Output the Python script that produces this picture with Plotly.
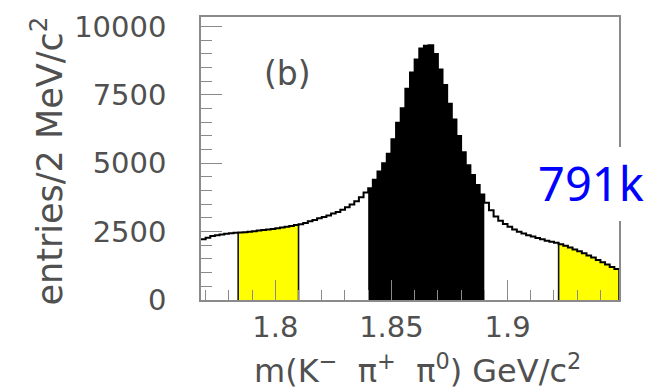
import plotly.graph_objects as go

# ---- data -------------------------------------------------------------
mass_lo = 1.768          # GeV/c^2, first bin edge
bin_width = 0.002        # 2 MeV/c^2
counts = [
    2220, 2280, 2340, 2370, 2400, 2420, 2440, 2455, 2470, 2480,
    2500, 2510, 2540, 2560, 2580, 2600, 2620, 2650, 2680, 2710,
    2740, 2770, 2820, 2880, 2930, 2990, 3040, 3090, 3160, 3220,
    3300, 3390, 3490, 3610, 3760, 3930,
    4090, 4400, 4700, 5000, 5350, 5880, 6480, 7010, 7730, 8320,
    8800, 9200, 9300, 9320, 9000, 8430, 7860, 7180, 6600, 6000,
    5400, 4930, 4570, 4210, 3860,
    3560, 3280, 3050, 2900, 2780, 2680, 2580, 2500, 2430, 2370,
    2320, 2270, 2220, 2170, 2130, 2090, 2040, 1980, 1920, 1850,
    1780, 1710, 1630, 1550, 1460, 1380, 1300, 1210, 1130,
]
signal_region = (1.840, 1.890)
sideband_regions = [(1.784, 1.810), (1.922, 1.948)]
y_ticks = [0, 2500, 5000, 7500, 10000]
x_ticks = [1.80, 1.85, 1.90]
panel_label = "(b)"
yield_label = "791k"
x_title = "m(K<sup>−</sup>&nbsp; π<sup>+</sup>&nbsp; π<sup>0</sup>) GeV/c<sup>2</sup>"
y_title = "entries/2 MeV/c<sup>2</sup>"

# ---- helpers ------------------------------------------------------------
edges = [mass_lo + bin_width * i for i in range(len(counts) + 1)]


def region_polygon(lo, hi):
    xs, ys = [lo], [0]
    for i, c in enumerate(counts):
        a, b = edges[i], edges[i + 1]
        if a >= lo - 1e-9 and b <= hi + 1e-9:
            xs += [a, b]
            ys += [c, c]
    xs.append(hi)
    ys.append(0)
    return xs, ys


def bin_value(x):
    for i, c in enumerate(counts):
        if edges[i] - 1e-9 <= x < edges[i + 1] - 1e-9:
            return c
    return counts[-1]


fig = go.Figure()

# signal region (black)
sx, sy = region_polygon(*signal_region)
fig.add_trace(go.Scatter(x=sx, y=sy, fill="toself", fillcolor="#000000",
                         mode="lines", line=dict(width=0, color="#000000"),
                         hoverinfo="skip", showlegend=False))

# sidebands (yellow) with black outer edges
for lo, hi in sideband_regions:
    bx, by = region_polygon(lo, hi)
    fig.add_trace(go.Scatter(x=bx, y=by, fill="toself", fillcolor="#FFFF00",
                             mode="lines", line=dict(width=0, color="#FFFF00"),
                             hoverinfo="skip", showlegend=False))
    for edge_x, v in ((lo, bin_value(lo)), (hi, bin_value(hi - 1e-6))):
        fig.add_trace(go.Scatter(x=[edge_x, edge_x], y=[0, v], mode="lines",
                                 line=dict(width=1.6, color="#111111"),
                                 hoverinfo="skip", showlegend=False))

# histogram outline
fig.add_trace(go.Scatter(x=edges, y=counts + [counts[-1]], mode="lines",
                         line=dict(shape="hv", width=2, color="#000000"),
                         hoverinfo="skip", showlegend=False))

tick_font = dict(family="DejaVu Sans", size=29, color="#505050")
axis_grey = "#8a8a8a"

fig.update_xaxes(range=[mass_lo, edges[-1]], tickvals=x_ticks,
                 ticktext=[f"{v:g}" for v in x_ticks],
                 ticks="inside", ticklen=20, tickwidth=1.3, tickcolor=axis_grey,
                 minor=dict(dtick=0.01, tick0=1.8, ticks="inside", ticklen=10,
                            tickwidth=1.3, tickcolor=axis_grey),
                 showline=True, linecolor=axis_grey, linewidth=1.5, mirror=True,
                 showgrid=False, zeroline=False, tickfont=tick_font,
                 ticklabelstandoff=0)
fig.update_yaxes(range=[0, 10350], tickvals=y_ticks,
                 ticktext=[str(v) for v in y_ticks],
                 ticks="inside", ticklen=21, tickwidth=1.3, tickcolor=axis_grey,
                 minor=dict(dtick=500, ticks="inside", ticklen=11,
                            tickwidth=1.3, tickcolor=axis_grey),
                 showline=True, linecolor=axis_grey, linewidth=1.5, mirror=True,
                 showgrid=False, zeroline=False, tickfont=tick_font,
                 ticklabelstandoff=27)

# white box hiding part of the right frame, with the yield label
fig.add_shape(type="rect", xref="paper", yref="paper",
              x0=0.79, x1=1.1, y0=0.279, y1=0.541,
              fillcolor="white", line=dict(width=0), layer="above")

fig.add_annotation(text=yield_label, xref="paper", yref="paper",
                   x=0.934, y=0.414, xanchor="center", yanchor="middle",
                   showarrow=False,
                   font=dict(family="Noto Sans", size=47, color="#0000FF"))
fig.add_annotation(text=panel_label, xref="paper", yref="paper",
                   x=0.206, y=0.80, xanchor="center", yanchor="middle",
                   showarrow=False,
                   font=dict(family="DejaVu Sans", size=33, color="#505050"))
fig.add_annotation(text=y_title, xref="paper", yref="paper",
                   x=-0.368, y=0.49, xanchor="center", yanchor="middle",
                   textangle=-90, showarrow=False,
                   font=dict(family="DejaVu Sans", size=35, color="#505050"))
fig.add_annotation(text=x_title, xref="paper", yref="paper",
                   x=0.517, y=-0.245, xanchor="center", yanchor="middle",
                   showarrow=False,
                   font=dict(family="DejaVu Sans", size=32, color="#505050"))

fig.update_layout(width=658, height=392,
                  margin=dict(l=201, r=39, t=10, b=92),
                  paper_bgcolor="white", plot_bgcolor="white")

fig.write_html("out.html")
